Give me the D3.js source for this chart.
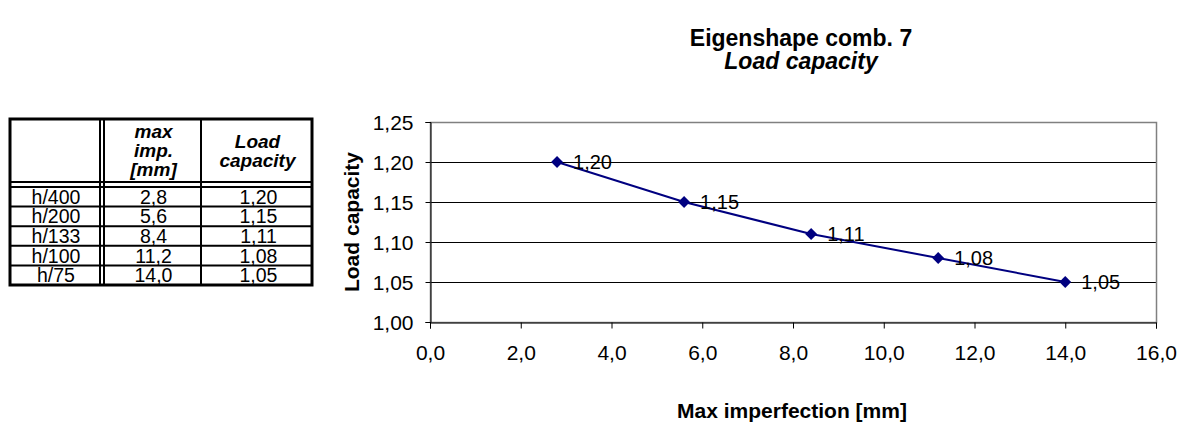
<!DOCTYPE html>
<html>
<head>
<meta charset="utf-8">
<script src="https://cdn.jsdelivr.net/npm/d3@7"></script>
<style>
  body { margin: 0; background: #fff; }
  svg { font-family: Arial, "Liberation Sans", sans-serif; }
</style>
</head>
<body>
<svg id="chart" width="1189" height="430"></svg>
<script>
// table + chart data
const rowLabels = ['h/400', 'h/200', 'h/133', 'h/100', 'h/75'];
const maxImp = [2.8, 5.6, 8.4, 11.2, 14.0];
const loadCap = [1.20, 1.15, 1.11, 1.08, 1.05];
const xTicks = [0, 2, 4, 6, 8, 10, 12, 14, 16];
const yTicks = [1.00, 1.05, 1.10, 1.15, 1.20, 1.25];

const svg = d3.select('#chart');
const comma = (v, d) => v.toFixed(d).replace('.', ',');
const FONT = 'Arial, "Liberation Sans", sans-serif';

// ---- table on the left ----
const tbl = svg.append('g');
const colX = [10, 102, 201, 312];
const tblTop = 119, headBot = 187, rowH = 19.6;
const tblBot = headBot + rowH * rowLabels.length;

rowLabels.forEach((r, i) => {
  if (i > 0) {
    tbl.append('line')
      .attr('x1', colX[0]).attr('x2', colX[3])
      .attr('y1', headBot + i * rowH).attr('y2', headBot + i * rowH)
      .attr('stroke', '#000').attr('stroke-width', 2);
  }
  const cy = headBot + i * rowH + rowH / 2 + 7;
  const vals = [r, comma(maxImp[i], 1), comma(loadCap[i], 2)];
  vals.forEach((v, j) => {
    tbl.append('text')
      .attr('x', (colX[j] + colX[j + 1]) / 2 + (j === 0 ? 0 : 2))
      .attr('y', cy)
      .attr('text-anchor', 'middle')
      .attr('font-size', 19.5)
      .text(v);
  });
});

// header double line
[headBot - 5, headBot].forEach(yy => {
  tbl.append('line').attr('x1', colX[0]).attr('x2', colX[3])
    .attr('y1', yy).attr('y2', yy).attr('stroke', '#000').attr('stroke-width', 2);
});
// column lines
[colX[1] - 2, colX[1] + 2, colX[2]].forEach(xx => {
  tbl.append('line').attr('x1', xx).attr('x2', xx)
    .attr('y1', tblTop).attr('y2', tblBot).attr('stroke', '#000').attr('stroke-width', 2);
});
// outer border
tbl.append('rect').attr('x', colX[0]).attr('y', tblTop)
  .attr('width', colX[3] - colX[0]).attr('height', tblBot - tblTop)
  .attr('fill', 'none').attr('stroke', '#000').attr('stroke-width', 3);

['max', 'imp.', '[mm]'].forEach((t, i) => {
  tbl.append('text').attr('x', (colX[1] + colX[2]) / 2 + 2).attr('y', 138 + i * 19)
    .attr('text-anchor', 'middle').attr('font-size', 19)
    .attr('font-weight', 'bold').attr('font-style', 'italic').text(t);
});
['Load', 'capacity'].forEach((t, i) => {
  tbl.append('text').attr('x', (colX[2] + colX[3]) / 2 + 1).attr('y', 148 + i * 19)
    .attr('text-anchor', 'middle').attr('font-size', 19)
    .attr('font-weight', 'bold').attr('font-style', 'italic').text(t);
});

// ---- chart ----
const m = { left: 430, right: 1156, top: 122, bottom: 322 };
const x = d3.scaleLinear().domain([0, 16]).range([m.left, m.right]);
const y = d3.scaleLinear().domain([1.00, 1.25]).range([m.bottom, m.top]);

// gridlines
svg.append('g').selectAll('line').data(yTicks.slice(1, -1)).join('line')
  .attr('x1', m.left).attr('x2', m.right)
  .attr('y1', d => Math.round(y(d)) + 0.5).attr('y2', d => Math.round(y(d)) + 0.5)
  .attr('stroke', '#000').attr('stroke-width', 1);

// plot border
svg.append('rect').attr('x', m.left + 0.5).attr('y', m.top + 0.5)
  .attr('width', m.right - m.left).attr('height', m.bottom - m.top)
  .attr('fill', 'none').attr('stroke', '#808080').attr('stroke-width', 1.5);

// y axis
const yAxis = svg.append('g').attr('transform', `translate(${m.left + 0.5},0)`)
  .call(d3.axisLeft(y).tickValues(yTicks).tickSize(5).tickFormat(d => comma(d, 2)));
yAxis.select('.domain').attr('stroke', '#000');
yAxis.selectAll('text').attr('font-size', 21).attr('font-family', FONT)
  .attr('x', -17).attr('dy', '0.35em');

// x axis
const xAxis = svg.append('g').attr('transform', `translate(0,${m.bottom + 0.5})`)
  .call(d3.axisBottom(x).tickValues(xTicks).tickSize(6).tickFormat(d => comma(d, 1)));
xAxis.select('.domain').attr('stroke', '#000');
xAxis.selectAll('text').attr('font-size', 21).attr('font-family', FONT)
  .attr('y', 23);

// line + markers
const line = d3.line().x((d, i) => x(maxImp[i])).y(d => y(d));
svg.append('path').datum(loadCap).attr('d', line)
  .attr('fill', 'none').attr('stroke', '#000080').attr('stroke-width', 2);

svg.append('g').selectAll('path').data(loadCap).join('path')
  .attr('d', d3.symbol().type(d3.symbolDiamond2).size(90))
  .attr('transform', (d, i) => `translate(${x(maxImp[i])},${y(d)})`)
  .attr('fill', '#000080');

svg.append('g').selectAll('text').data(loadCap).join('text')
  .attr('x', (d, i) => x(maxImp[i]) + 16)
  .attr('y', d => y(d) + 7)
  .attr('font-size', 20)
  .text(d => comma(d, 2));

// titles
svg.append('text').attr('x', 801).attr('y', 46).attr('text-anchor', 'middle')
  .attr('font-size', 23).attr('font-weight', 'bold').text('Eigenshape comb. 7');
svg.append('text').attr('x', 801).attr('y', 69).attr('text-anchor', 'middle')
  .attr('font-size', 23).attr('font-weight', 'bold').attr('font-style', 'italic').text('Load capacity');

svg.append('text').attr('x', 792).attr('y', 418).attr('text-anchor', 'middle')
  .attr('font-size', 21).attr('font-weight', 'bold').text('Max imperfection [mm]');

svg.append('text').attr('transform', `translate(359,${(m.top + m.bottom) / 2}) rotate(-90)`)
  .attr('text-anchor', 'middle').attr('font-size', 21).attr('font-weight', 'bold')
  .text('Load capacity');
</script>
</body>
</html>
